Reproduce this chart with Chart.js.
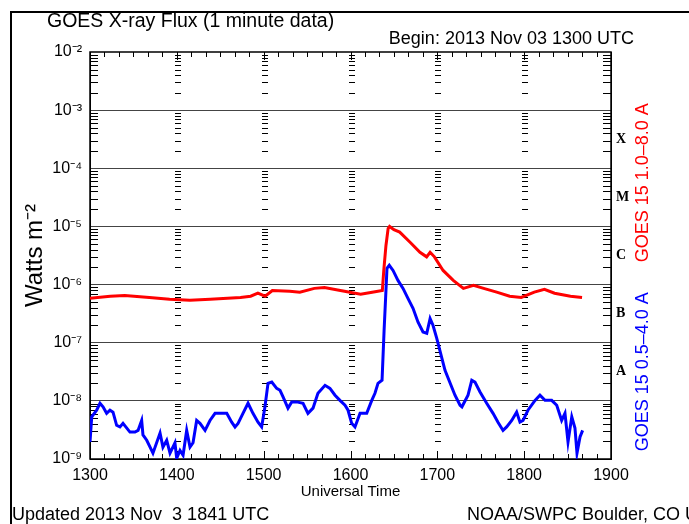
<!DOCTYPE html>
<html>
<head>
<meta charset="utf-8">
<title>GOES X-ray Flux</title>
<script src="https://cdn.jsdelivr.net/npm/chart.js@4.4.1/dist/chart.umd.min.js"></script>
<style>
    body { margin: 0; background: #ffffff; }
    canvas { display: block; }
</style>
</head>
<body>
<canvas id="xrayChart" width="689" height="524"></canvas>
<script>
// Tick labels
const hourLabels = ['1300', '1400', '1500', '1600', '1700', '1800', '1900'];
const decadeExps = [-9, -8, -7, -6, -5, -4, -3, -2];
const decadeLabels = ['10⁻⁹', '10⁻⁸', '10⁻⁷', '10⁻⁶', '10⁻⁵', '10⁻⁴', '10⁻³', '10⁻²'];
const classLetters = ['A', 'B', 'C', 'M', 'X'];
const classFloors = [1e-8, 1e-7, 1e-6, 1e-5, 1e-4];

// GOES 15 1.0-8.0 A (minutes after 1300 UTC)
const longTimes = [0, 14, 24, 41, 55, 69, 83, 104, 111, 116, 121, 126, 138, 145, 155, 162, 173, 187, 195, 202,
    203, 204.5, 206, 207, 210, 214, 221, 228, 232.6, 235, 238, 244, 251, 258, 265, 272, 281, 290, 298,
    307, 314, 321, 332, 340];
const longFlux = [5.8e-7, 6.3e-7, 6.5e-7, 6.0e-7, 5.6e-7, 5.35e-7, 5.6e-7, 6.0e-7, 6.3e-7, 7.1e-7, 6.3e-7, 7.9e-7,
    7.7e-7, 7.4e-7, 8.6e-7, 8.9e-7, 7.9e-7, 6.8e-7, 7.4e-7, 7.9e-7,
    1.75e-6, 4.7e-6, 9.2e-6, 1.0e-5, 8.8e-6, 8.0e-6, 5.4e-6, 3.6e-6, 3.0e-6, 3.6e-6, 3.0e-6, 1.75e-6, 1.18e-6,
    8.6e-7, 9.7e-7, 8.6e-7, 7.4e-7, 6.3e-7, 6.0e-7, 7.4e-7, 8.3e-7, 7.1e-7, 6.3e-7, 6.0e-7];

// GOES 15 0.5-4.0 A
const shortTimes = [0, 1.2, 4.6, 6.9, 9, 11.5, 13.8, 15.9, 18.4, 20.7, 22.8, 27.6, 31.1, 33.2, 35.7, 36.6, 39.2,
    41.5, 43.5, 48.4, 50.4, 53, 55.3, 58.7, 59.9, 62.2, 64.3, 66.8, 69.1, 71.2, 73.7, 76, 79.5, 82.9, 86.4,
    89.8, 94.5, 97.9, 100.2, 102.3, 105.7, 109.2, 112.6, 116.1, 118.6, 120.9, 123, 125.6, 129, 131.3, 133.4,
    136.8, 139.4, 142.8, 147.2, 150.6, 154.1, 157.5, 162.4, 165.8, 169.3, 172.7, 176.2, 178.3, 180.8, 183.1,
    186.6, 191.2, 194.7, 196.9, 199, 201.8, 203.2, 204.5, 205.2, 206.8, 209.4, 212.8, 216.3, 219.7, 223.2,
    226.6, 230.1, 232.7, 235, 237, 239.6, 245.3, 252.2, 255.7, 257, 261.2, 263.8, 266, 269.5, 274.1, 278.5,
    281.9, 285.4, 287.9, 291.4, 294.8, 297.1, 299.2, 302.6, 307.5, 310.9, 314.4, 319, 322.5, 325.9, 328.2,
    330.3, 332.9, 335.1, 336.5, 338.6, 340.4];
const shortFlux = [1.97e-9, 5.3e-9, 6.9e-9, 9.1e-9, 7.9e-9, 6.1e-9, 6.9e-9, 6.4e-9, 3.8e-9, 3.56e-9, 4.1e-9,
    2.9e-9, 2.9e-9, 3.1e-9, 4.6e-9, 2.6e-9, 2.1e-9, 1.6e-9, 1.26e-9, 2.8e-9, 1.6e-9, 2.1e-9, 1.26e-9, 1.9e-9,
    1.03e-9, 1.4e-9, 1.16e-9, 3.1e-9, 1.6e-9, 1.9e-9, 4.6e-9, 4.1e-9, 3.1e-9, 4.6e-9, 6.1e-9, 6.1e-9, 6.1e-9,
    4.3e-9, 3.56e-9, 4.1e-9, 6.1e-9, 9.1e-9, 6.1e-9, 4.3e-9, 3.56e-9, 7.9e-9, 2.0e-8, 2.1e-8, 1.64e-8, 1.52e-8,
    1.17e-8, 7.5e-9, 9.6e-9, 9.6e-9, 9.1e-9, 6.1e-9, 7.5e-9, 1.35e-8, 1.85e-8, 1.64e-8, 1.25e-8, 1.02e-8, 8.4e-9,
    6.9e-9, 4.1e-9, 3.56e-9, 6.1e-9, 6.1e-9, 1.02e-8, 1.35e-8, 2.0e-8, 2.26e-8, 1.6e-7, 7.9e-7, 1.9e-6, 2.14e-6,
    1.75e-6, 1.18e-6, 8.6e-7, 5.8e-7, 3.9e-7, 2.27e-7, 1.53e-7, 1.45e-7, 2.6e-7, 2.0e-7, 1.19e-7, 3.36e-8,
    1.25e-8, 8.4e-9, 7.9e-9, 1.25e-8, 2.26e-8, 2.1e-8, 1.42e-8, 9.1e-9, 6.1e-9, 4.3e-9, 3.1e-9, 3.56e-9, 4.6e-9,
    6.4e-9, 4.3e-9, 4.6e-9, 6.9e-9, 1.02e-8, 1.25e-8, 1.02e-8, 1.02e-8, 8.4e-9, 4.6e-9, 6.1e-9, 1.97e-9, 5.3e-9,
    3.4e-9, 1.26e-9, 2.4e-9, 3.1e-9];

const FONT = "'Liberation Sans', Arial, sans-serif";

// Inward tick marks, plot box and surrounding texts
const decorPlugin = {
    id: 'goesDecor',
    beforeDatasetsDraw(chart) {
        const ctx = chart.ctx;
        const area = chart.chartArea;
        const x = chart.scales.x;
        const y = chart.scales.y;

        ctx.save();
        ctx.strokeStyle = '#000000';
        ctx.lineWidth = 1;
        ctx.beginPath();

        // log minor ticks on both sides and at each hour
        decadeExps.slice(0, -1).forEach(e => {
            for (let m = 2; m <= 9; m++) {
                const py = Math.round(y.getPixelForValue(m * Math.pow(10, e))) + 0.5;
                ctx.moveTo(area.left, py); ctx.lineTo(area.left + 8, py);
                ctx.moveTo(area.right, py); ctx.lineTo(area.right - 8, py);
                for (let h = 1; h < hourLabels.length - 1; h++) {
                    const px = Math.round(x.getPixelForValue(h * 60));
                    ctx.moveTo(px - 2, py); ctx.lineTo(px + 4, py);
                }
            }
        });

        // time ticks every 10 minutes on top and bottom
        for (let t = 0; t <= 360; t += 10) {
            const px = Math.round(x.getPixelForValue(t)) + 0.5;
            const len = t % 60 === 0 ? 8 : 5;
            ctx.moveTo(px, area.bottom); ctx.lineTo(px, area.bottom - len);
            ctx.moveTo(px, area.top); ctx.lineTo(px, area.top + len);
        }
        ctx.stroke();

        ctx.lineWidth = 1.5;
        ctx.strokeRect(area.left, area.top, area.right - area.left, area.bottom - area.top);
        ctx.restore();
    },
    afterDraw(chart) {
        const ctx = chart.ctx;
        const y = chart.scales.y;
        ctx.save();

        // outer frame
        ctx.strokeStyle = '#000000';
        ctx.lineWidth = 2;
        ctx.beginPath();
        ctx.moveTo(11, 524);
        ctx.lineTo(11, 12);
        ctx.lineTo(689, 12);
        ctx.stroke();

        ctx.fillStyle = '#000000';
        ctx.textBaseline = 'alphabetic';
        ctx.font = '19.5px ' + FONT;
        ctx.textAlign = 'left';
        ctx.fillText('GOES X-ray Flux (1 minute data)', 47, 27);
        ctx.font = '18px ' + FONT;
        ctx.textAlign = 'right';
        ctx.fillText('Begin: 2013 Nov 03 1300 UTC', 634, 44);

        ctx.textAlign = 'left';
        ctx.fillText('Updated 2013 Nov  3 1841 UTC', 12, 520);
        ctx.fillText('NOAA/SWPC Boulder, CO USA', 467, 520);

        // channel labels on the right
        ctx.font = '18px ' + FONT;
        ctx.textAlign = 'center';
        ctx.textBaseline = 'middle';
        const labels = [
            { text: 'GOES 15 1.0\u20138.0 A', color: '#ff0000', value: Math.pow(10, -4.25) },
            { text: 'GOES 15 0.5\u20134.0 A', color: '#0000ff', value: Math.pow(10, -7.5) }
        ];
        labels.forEach(l => {
            ctx.save();
            ctx.translate(643, y.getPixelForValue(l.value));
            ctx.rotate(-Math.PI / 2);
            ctx.fillStyle = l.color;
            ctx.fillText(l.text, 0, 0);
            ctx.restore();
        });
        ctx.restore();
    }
};

const ctx = document.getElementById('xrayChart');

new Chart(ctx, {
    type: 'line',
    data: {
        datasets: [{
            label: 'GOES 15 1.0-8.0 A',
            data: longTimes.map((t, i) => ({ x: t, y: longFlux[i] })),
            borderColor: '#ff0000',
            borderWidth: 3,
            pointRadius: 0,
            tension: 0
        }, {
            label: 'GOES 15 0.5-4.0 A',
            data: shortTimes.map((t, i) => ({ x: t, y: shortFlux[i] })),
            borderColor: '#0000ff',
            borderWidth: 3,
            pointRadius: 0,
            tension: 0
        }]
    },
    options: {
        responsive: false,
        animation: false,
        devicePixelRatio: 1,
        layout: { padding: { top: 52, left: 0, right: 0, bottom: 0 } },
        plugins: {
            legend: { display: false },
            tooltip: { enabled: false }
        },
        scales: {
            x: {
                type: 'linear',
                position: 'bottom',
                min: 0,
                max: 360,
                afterFit: s => { s.height = 65; },
                afterBuildTicks: s => { s.ticks = hourLabels.map((_, i) => ({ value: i * 60 })); },
                ticks: {
                    padding: 7,
                    color: '#000000',
                    maxRotation: 0,
                    font: { family: FONT, size: 16 },
                    callback: (v, i) => hourLabels[i]
                },
                grid: { drawOnChartArea: false, drawTicks: false },
                border: { color: '#000000' },
                title: {
                    display: true,
                    text: 'Universal Time',
                    color: '#000000',
                    font: { family: FONT, size: 15 },
                    padding: { top: 0, bottom: 23 }
                }
            },
            y: {
                type: 'logarithmic',
                position: 'left',
                min: 1e-9,
                max: 1e-2,
                afterFit: s => { s.width = 90; },
                afterBuildTicks: s => { s.ticks = decadeExps.map(e => ({ value: Math.pow(10, e) })); },
                ticks: {
                    padding: 8,
                    color: '#000000',
                    font: { family: FONT, size: 16 },
                    callback: (v, i) => decadeLabels[i]
                },
                grid: {
                    drawTicks: false,
                    lineWidth: 1,
                    color: c => (c.index === 0 || c.index === decadeExps.length - 1) ? 'rgba(0,0,0,0)' : '#444444'
                },
                border: { color: '#000000' },
                title: {
                    display: true,
                    text: 'Watts m⁻²',
                    color: '#000000',
                    font: { family: FONT, size: 24 },
                    padding: { top: 21, bottom: 0 }
                }
            },
            y2: {
                type: 'logarithmic',
                position: 'right',
                min: 1e-9,
                max: 1e-2,
                afterFit: s => { s.width = 78; },
                afterBuildTicks: s => { s.ticks = classFloors.map(f => ({ value: f * Math.sqrt(10) })); },
                ticks: {
                    padding: 5,
                    color: '#000000',
                    font: { family: "'Liberation Serif', serif", size: 14, weight: 'bold' },
                    callback: (v, i) => classLetters[i]
                },
                grid: { drawOnChartArea: false, drawTicks: false },
                border: { color: '#000000' }
            }
        }
    },
    plugins: [decorPlugin]
});
</script>
</body>
</html>
